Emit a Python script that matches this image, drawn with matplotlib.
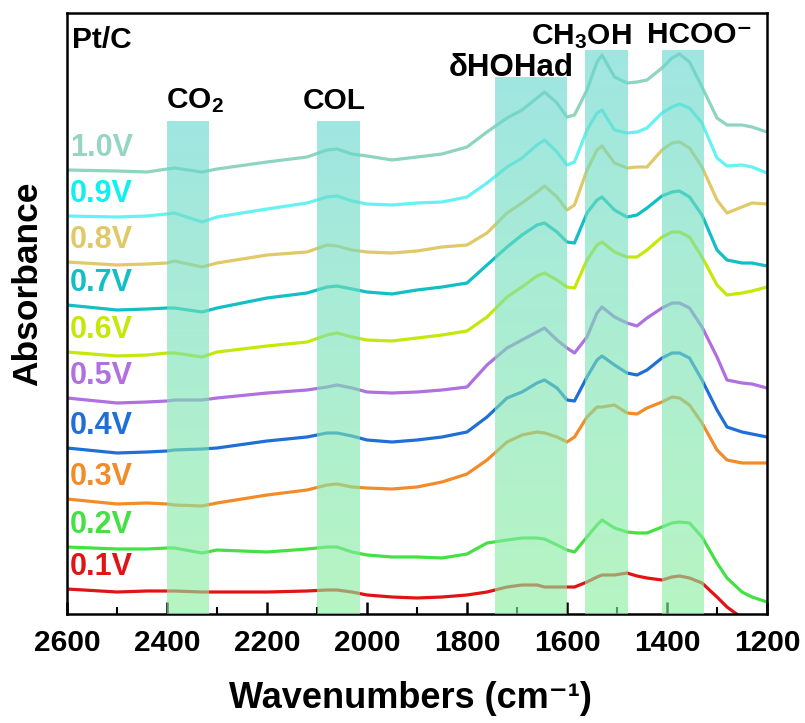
import numpy as np
import matplotlib.pyplot as plt
from matplotlib.ticker import MultipleLocator
from matplotlib.colors import to_rgb

plt.rcParams['font.family'] = ['Liberation Sans', 'DejaVu Sans']
plt.rcParams['font.weight'] = 'bold'
plt.rcParams['mathtext.fontset'] = 'custom'
plt.rcParams['mathtext.rm'] = 'Liberation Sans:bold'
plt.rcParams['mathtext.it'] = 'Liberation Sans:bold'
plt.rcParams['mathtext.bf'] = 'Liberation Sans:bold'

# wavenumber grid (cm-1) shared by all spectra
wn = [2600, 2500, 2440, 2400, 2385, 2330, 2300, 2200,
      2120, 2080, 2060, 2030, 2000, 1950, 1900, 1850,
      1800, 1760, 1720, 1690, 1660, 1645, 1620, 1600,
      1585, 1560, 1540, 1530, 1505, 1480, 1460, 1440,
      1410, 1390, 1375, 1355, 1330, 1300, 1280, 1250,
      1230, 1200]

# stacked absorbance (offset already included), one list per potential
a_01 = [0.25, 0.22, 0.23, 0.23, 0.23, 0.22, 0.22, 0.22, 0.23, 0.24, 0.24, 0.22, 0.19, 0.17,
        0.16, 0.17, 0.19, 0.22, 0.27, 0.29, 0.29, 0.27, 0.27, 0.27, 0.27, 0.32, 0.37, 0.39,
        0.39, 0.41, 0.38, 0.36, 0.34, 0.37, 0.38, 0.36, 0.31, 0.17, 0.07, -0.04, -0.13, -0.26]
a_02 = [0.67, 0.65, 0.65, 0.66, 0.66, 0.61, 0.64, 0.62, 0.65, 0.67, 0.67, 0.62, 0.59, 0.57,
        0.57, 0.56, 0.60, 0.71, 0.74, 0.76, 0.76, 0.75, 0.69, 0.64, 0.62, 0.77, 0.89, 0.94,
        0.86, 0.82, 0.81, 0.81, 0.87, 0.91, 0.92, 0.91, 0.77, 0.51, 0.36, 0.22, 0.17, 0.12]
a_03 = [1.15, 1.10, 1.11, 1.10, 1.09, 1.08, 1.11, 1.19, 1.24, 1.29, 1.30, 1.27, 1.26, 1.25,
        1.27, 1.32, 1.40, 1.54, 1.72, 1.79, 1.82, 1.81, 1.77, 1.72, 1.77, 1.97, 2.07, 2.07,
        2.09, 2.01, 2.00, 2.06, 2.12, 2.17, 2.16, 2.09, 1.91, 1.64, 1.54, 1.51, 1.51, 1.51]
a_04 = [1.66, 1.61, 1.62, 1.63, 1.64, 1.65, 1.66, 1.73, 1.77, 1.81, 1.81, 1.78, 1.74, 1.72,
        1.74, 1.77, 1.82, 1.97, 2.16, 2.22, 2.31, 2.34, 2.26, 2.14, 2.13, 2.37, 2.54, 2.58,
        2.49, 2.41, 2.39, 2.44, 2.56, 2.61, 2.61, 2.56, 2.34, 2.04, 1.87, 1.82, 1.80, 1.77]
a_05 = [2.16, 2.11, 2.12, 2.13, 2.14, 2.14, 2.16, 2.21, 2.24, 2.27, 2.29, 2.26, 2.22, 2.21,
        2.22, 2.24, 2.27, 2.49, 2.66, 2.74, 2.82, 2.86, 2.74, 2.66, 2.61, 2.77, 3.01, 3.07,
        2.97, 2.91, 2.88, 2.96, 3.06, 3.11, 3.11, 3.06, 2.87, 2.57, 2.34, 2.31, 2.30, 2.26]
a_06 = [2.62, 2.58, 2.59, 2.61, 2.61, 2.57, 2.62, 2.68, 2.72, 2.79, 2.81, 2.77, 2.74, 2.73,
        2.76, 2.79, 2.83, 2.97, 3.17, 3.27, 3.38, 3.41, 3.34, 3.27, 3.26, 3.54, 3.69, 3.72,
        3.62, 3.57, 3.57, 3.64, 3.77, 3.82, 3.82, 3.77, 3.57, 3.29, 3.19, 3.21, 3.23, 3.27]
a_07 = [3.09, 3.04, 3.05, 3.06, 3.06, 3.02, 3.06, 3.16, 3.21, 3.27, 3.28, 3.25, 3.22, 3.20,
        3.24, 3.27, 3.31, 3.49, 3.67, 3.79, 3.89, 3.91, 3.82, 3.72, 3.71, 4.01, 4.14, 4.17,
        4.04, 3.97, 3.99, 4.06, 4.18, 4.22, 4.23, 4.17, 3.99, 3.64, 3.54, 3.51, 3.51, 3.48]
a_08 = [3.52, 3.49, 3.50, 3.51, 3.53, 3.47, 3.51, 3.59, 3.62, 3.69, 3.68, 3.64, 3.62, 3.61,
        3.63, 3.67, 3.69, 3.81, 4.01, 4.11, 4.22, 4.28, 4.17, 4.04, 4.09, 4.44, 4.64, 4.68,
        4.51, 4.46, 4.47, 4.47, 4.64, 4.71, 4.72, 4.66, 4.47, 4.14, 4.01, 4.07, 4.11, 4.10]
a_09 = [3.98, 3.97, 3.98, 4.00, 4.01, 3.92, 3.97, 4.05, 4.11, 4.17, 4.18, 4.13, 4.10, 4.09,
        4.11, 4.12, 4.17, 4.31, 4.47, 4.56, 4.69, 4.74, 4.62, 4.49, 4.52, 4.84, 5.01, 5.04,
        4.84, 4.81, 4.82, 4.86, 5.01, 5.07, 5.10, 5.06, 4.91, 4.56, 4.48, 4.49, 4.47, 4.41]
a_10 = [4.44, 4.43, 4.42, 4.45, 4.46, 4.42, 4.45, 4.52, 4.57, 4.64, 4.65, 4.60, 4.58, 4.54,
        4.57, 4.60, 4.67, 4.82, 4.96, 5.04, 5.16, 5.22, 5.11, 4.97, 4.99, 5.24, 5.52, 5.59,
        5.37, 5.31, 5.32, 5.34, 5.46, 5.56, 5.60, 5.52, 5.27, 4.96, 4.89, 4.89, 4.87, 4.82]

potentials = ['0.1V', '0.2V', '0.3V', '0.4V', '0.5V', '0.6V', '0.7V', '0.8V', '0.9V', '1.0V']
spectra = [a_01, a_02, a_03, a_04, a_05, a_06, a_07, a_08, a_09, a_10]
colors = ['#e01414', '#44e044', '#f28c28', '#1f6fd6', '#b070e0',
          '#c5e80a', '#12bfc4', '#e0c968', '#66f2f2', '#8fd4c0']
label_colors = ['#e01414', '#44e044', '#f28c28', '#1f6fd6', '#b070e0',
                '#c5e80a', '#12bfc4', '#e0c968', '#10f0f0', '#95d5c2']

# assignment bands: wavenumber range and height
band_names = ['CO$_2$', 'COL', 'δHOHad', 'CH$_3$OH', 'HCOO⁻']
band_hi = [2400, 2100, 1744, 1564, 1410]
band_lo = [2316, 2014, 1600, 1480, 1326]
band_top = [4.92, 4.92, 5.36, 5.63, 5.64]

fig = plt.figure(figsize=(8.05, 7.23), dpi=100)
ax = fig.add_axes([67 / 805, 1 - 614 / 723, 700 / 805, 601 / 723])

for y, c in zip(spectra, colors):
    ax.plot(wn, y, color=c, lw=2.3, solid_joinstyle='round', solid_capstyle='round', zorder=2)

for y, lab, c in zip(spectra, potentials, label_colors):
    ax.text(2594, y[0] + 0.22, lab, color=c, fontsize=22, fontweight='bold',
            ha='left', va='center', zorder=4)

# translucent bands, cyan at the top fading to green at the bottom
c_top = np.array(to_rgb('#66d7cf'))
c_bot = np.array(to_rgb('#8cef9e'))
t = np.linspace(0, 1, 256)[:, None]
img = np.zeros((256, 1, 4))
img[:, 0, :3] = c_bot * (1 - t) + c_top * t
img[:, 0, 3] = 0.62
for hi, lo, top in zip(band_hi, band_lo, band_top):
    ax.imshow(img, extent=(hi, lo, 0, top), aspect='auto', origin='lower',
              interpolation='bilinear', zorder=3)

ax.text(2590, 5.74, 'Pt/C', fontsize=21.5, fontweight='bold', ha='left', va='center', zorder=4)
ax.text(2344, 5.13, band_names[0], fontsize=21.5, ha='center', va='center', zorder=4)
ax.text(2066, 5.13, band_names[1], fontsize=21.5, ha='center', va='center', zorder=4)
ax.text(1712, 5.46, band_names[2], fontsize=22.5, ha='center', va='center', zorder=4)
ax.text(1572, 5.77, band_names[3], fontsize=21.5, ha='center', va='center', zorder=4)
ax.text(1334, 5.79, band_names[4], fontsize=21.5, ha='center', va='center', zorder=4)

ax.set_xlim(2600, 1200)
ax.set_ylim(0, 6.01)
ax.xaxis.set_major_locator(MultipleLocator(200))
ax.xaxis.set_minor_locator(MultipleLocator(100))
ax.tick_params(axis='x', which='both', direction='in', top=False, labelsize=21.5, pad=11)
ax.tick_params(axis='x', which='major', length=9, width=1.8)
ax.tick_params(axis='x', which='minor', length=5, width=1.5)
ax.set_yticks([])
for s in ax.spines.values():
    s.set_linewidth(1.8)

fig.text(410 / 805, 1 - 698 / 723, 'Wavenumbers (cm⁻¹)', fontsize=26,
         fontweight='bold', ha='center', va='center')
fig.text(28 / 805, 1 - 284 / 723, 'Absorbance', fontsize=25.5, fontweight='bold',
         rotation=90, ha='center', va='center')

fig.savefig('out.png', dpi=100)
